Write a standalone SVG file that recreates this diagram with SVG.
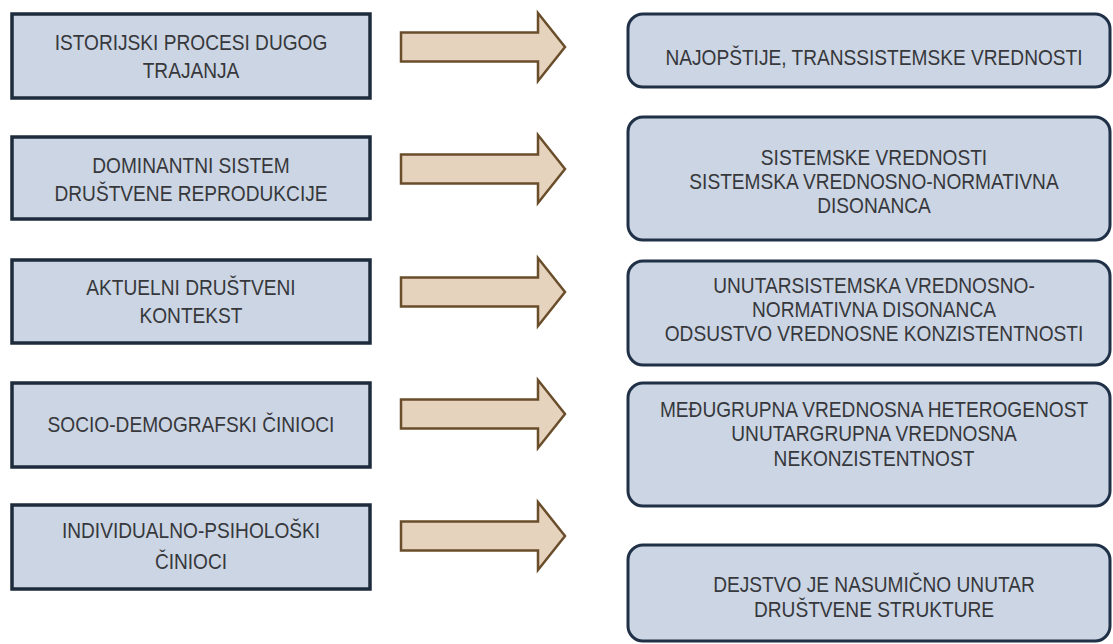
<svg xmlns="http://www.w3.org/2000/svg" width="1113" height="644" viewBox="0 0 1113 644">
<style>
.lb{fill:#ccd5e3;stroke:#1d2b3c;stroke-width:3.5}
.rb{fill:#ccd5e3;stroke:#1f3047;stroke-width:3}
.t{font-family:"Liberation Sans",Arial,sans-serif;font-size:22.5px;fill:#36383c;text-anchor:middle}
.ar{fill:#e6d3be;stroke:#6a4e2b;stroke-width:2.5;stroke-linejoin:miter}
</style>
<defs>
<path id="arrow" d="M0,-14.5 H137 V-34 L164,0 L137,34 V14.5 H0 Z"/>
</defs>
<rect width="1113" height="644" fill="#ffffff"/>

<g id="left1"><rect class="lb" x="12" y="14" width="358" height="84"/>
<text class="t" transform="translate(191,50) scale(0.85,1)"><tspan x="0">ISTORIJSKI PROCESI DUGOG</tspan><tspan x="0" dy="28">TRAJANJA</tspan></text></g>
<g id="left2"><rect class="lb" x="12" y="137" width="358" height="82"/>
<text class="t" transform="translate(191,173) scale(0.85,1)"><tspan x="0">DOMINANTNI SISTEM</tspan><tspan x="0" dy="28">DRUŠTVENE REPRODUKCIJE</tspan></text></g>
<g id="left3"><rect class="lb" x="12" y="260" width="358" height="83"/>
<text class="t" transform="translate(191,295) scale(0.85,1)"><tspan x="0">AKTUELNI DRUŠTVENI</tspan><tspan x="0" dy="28">KONTEKST</tspan></text></g>
<g id="left4"><rect class="lb" x="12" y="383" width="358" height="84"/>
<text class="t" transform="translate(191,432) scale(0.85,1)"><tspan x="0">SOCIO-DEMOGRAFSKI ČINIOCI</tspan></text></g>
<g id="left5"><rect class="lb" x="12" y="505" width="358" height="84"/>
<text class="t" transform="translate(191,538) scale(0.85,1)"><tspan x="0">INDIVIDUALNO-PSIHOLOŠKI</tspan><tspan x="0" dy="31">ČINIOCI</tspan></text></g>

<g id="connectors">
<use href="#arrow" class="ar" transform="translate(401,47)"/>
<use href="#arrow" class="ar" transform="translate(401,169)"/>
<use href="#arrow" class="ar" transform="translate(401,292)"/>
<use href="#arrow" class="ar" transform="translate(401,414)"/>
<use href="#arrow" class="ar" transform="translate(401,536)"/>
</g>

<g id="right1"><rect class="rb" x="628" y="14" width="482" height="73" rx="15"/>
<text class="t" transform="translate(874,65) scale(0.85,1)"><tspan x="0">NAJOPŠTIJE, TRANSSISTEMSKE VREDNOSTI</tspan></text></g>
<g id="right2"><rect class="rb" x="628" y="117" width="482" height="123" rx="15"/>
<text class="t" transform="translate(874,165) scale(0.85,1)"><tspan x="0">SISTEMSKE VREDNOSTI</tspan><tspan x="0" dy="24">SISTEMSKA VREDNOSNO-NORMATIVNA</tspan><tspan x="0" dy="24">DISONANCA</tspan></text></g>
<g id="right3"><rect class="rb" x="628" y="261" width="482" height="104" rx="15"/>
<text class="t" transform="translate(874,293) scale(0.85,1)"><tspan x="0">UNUTARSISTEMSKA VREDNOSNO-</tspan><tspan x="0" dy="24">NORMATIVNA DISONANCA</tspan><tspan x="0" dy="24">ODSUSTVO VREDNOSNE KONZISTENTNOSTI</tspan></text></g>
<g id="right4"><rect class="rb" x="628" y="383" width="482" height="123" rx="15"/>
<text class="t" transform="translate(874,417) scale(0.85,1)"><tspan x="0">MEĐUGRUPNA VREDNOSNA HETEROGENOST</tspan><tspan x="0" dy="24.5">UNUTARGRUPNA VREDNOSNA</tspan><tspan x="0" dy="24.5">NEKONZISTENTNOST</tspan></text></g>
<g id="right5"><rect class="rb" x="628" y="545" width="482" height="96" rx="15"/>
<text class="t" transform="translate(874,592) scale(0.85,1)"><tspan x="0">DEJSTVO JE NASUMIČNO UNUTAR</tspan><tspan x="0" dy="25">DRUŠTVENE STRUKTURE</tspan></text></g>
</svg>
